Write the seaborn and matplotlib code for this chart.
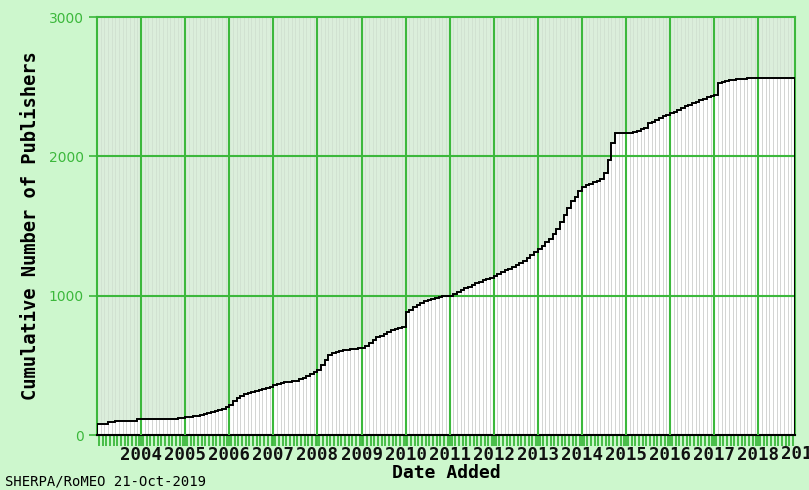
import numpy as np
import pandas as pd
import seaborn as sns
import matplotlib.pyplot as plt

# cumulative publishers, one value per month, Jan 2004 .. Oct 2019
y2004 = [79, 79, 79, 93, 93, 103, 103, 103, 103, 103, 103, 113]
y2005 = [113, 113, 113, 113, 113, 113, 113, 113, 113, 113, 124, 124]
y2006 = [126, 130, 134, 140, 146, 152, 158, 165, 172, 180, 190, 200]
y2007 = [215, 245, 265, 280, 295, 305, 312, 318, 324, 330, 336, 345]
y2008 = [360, 368, 374, 378, 382, 386, 390, 400, 410, 425, 440, 455]
y2009 = [470, 500, 540, 575, 590, 598, 604, 608, 612, 615, 618, 622]
y2010 = [628, 640, 660, 680, 700, 712, 724, 740, 752, 762, 770, 778]
y2011 = [880, 900, 920, 935, 950, 960, 970, 978, 985, 990, 995, 998]
y2012 = [1000, 1010, 1025, 1040, 1055, 1065, 1075, 1090, 1100, 1110, 1120, 1130]
y2013 = [1140, 1155, 1170, 1185, 1195, 1205, 1220, 1235, 1250, 1270, 1290, 1310]
y2014 = [1335, 1360, 1385, 1410, 1440, 1480, 1530, 1580, 1630, 1680, 1710, 1750]
y2015 = [1780, 1795, 1805, 1815, 1825, 1838, 1880, 1974, 2096, 2168, 2168, 2168]
y2016 = [2168, 2168, 2175, 2185, 2195, 2205, 2240, 2250, 2260, 2275, 2290, 2300]
y2017 = [2311, 2320, 2330, 2345, 2360, 2370, 2380, 2390, 2405, 2412, 2425, 2435]
y2018 = [2440, 2527, 2534, 2540, 2545, 2548, 2552, 2556, 2558, 2560, 2561, 2563]
y2019 = [2563] * 10
counts = (y2004 + y2005 + y2006 + y2007 + y2008 + y2009 + y2010 + y2011 + y2012
          + y2013 + y2014 + y2015 + y2016 + y2017 + y2018 + y2019)
year_labels = [str(y) for y in range(2004, 2020)]
y_ticks = [0, 1000, 2000, 3000]

n = len(counts)
df = pd.DataFrame({"month": np.arange(n), "count": counts})

green = "#3cb83c"
plt.figure(figsize=(8.09, 4.90), dpi=100, facecolor="#cdf7cd")
ax = plt.axes([0.1199, 0.1122, 0.9827 - 0.1199, 0.9653 - 0.1122])
ax.set_facecolor("#dbeedb")

# faint stripes above the curve
sns.barplot(x=df.month, y=[3000] * n, width=1, color="#dbeedb", saturation=1,
            edgecolor="#cfe0cf", linewidth=0.5, ax=ax, zorder=1)
sns.barplot(data=df, x="month", y="count", width=1, color="white", saturation=1,
            edgecolor="#cccccc", linewidth=0.5, ax=ax, zorder=2)
ax.stairs(counts, np.arange(n + 1) - 0.5, baseline=0, color="black", lw=1.4, zorder=5)

ax.set_xlim(-0.5, n - 0.5)
ax.set_ylim(0, 3000)
year_pos = [12 * k - 0.5 for k in range(1, len(year_labels) + 1)]
ax.set_xticks(year_pos[:-1])
ax.set_xticklabels(year_labels[:-1], family="DejaVu Sans Mono", fontweight="bold",
                   fontsize=12.5, color="#111111")
ax.text(year_pos[-1], -75, year_labels[-1], ha="center", va="top", clip_on=False,
        family="DejaVu Sans Mono", fontweight="bold", fontsize=12.5, color="#111111")
ax.set_xticks(np.arange(n), minor=True)
ax.tick_params(axis="x", which="both", colors=green, length=8, width=1.3,
               labelcolor="#111111", pad=0)
ax.set_yticks(y_ticks)
ax.set_yticklabels([str(v) for v in y_ticks], fontsize=10, color="#44c044")
ax.tick_params(axis="y", colors=green, length=6, width=1.2)

for xp in year_pos[:-1]:
    ax.axvline(xp, color=green, lw=1.5, zorder=4)
for yv in y_ticks[1:3]:
    ax.axhline(yv, color=green, lw=1.5, zorder=4)

for s in ["left", "top", "right"]:
    ax.spines[s].set_color(green)
    ax.spines[s].set_linewidth(1.5)
ax.spines["bottom"].set_color("black")
ax.spines["bottom"].set_linewidth(1.5)

ax.set_xlabel("Date Added", family="DejaVu Sans Mono", fontweight="bold", fontsize=13, labelpad=0)
ax.set_ylabel("Cumulative Number of Publishers", family="DejaVu Sans Mono",
              fontweight="bold", fontsize=13.5)
ax.yaxis.set_label_coords(-0.082, 0.5)
plt.figtext(0.006, 0.004, "SHERPA/RoMEO 21-Oct-2019", family="DejaVu Sans Mono",
            fontsize=10, color="black", va="bottom")

plt.savefig("out.png", dpi=100, facecolor="#cdf7cd")
